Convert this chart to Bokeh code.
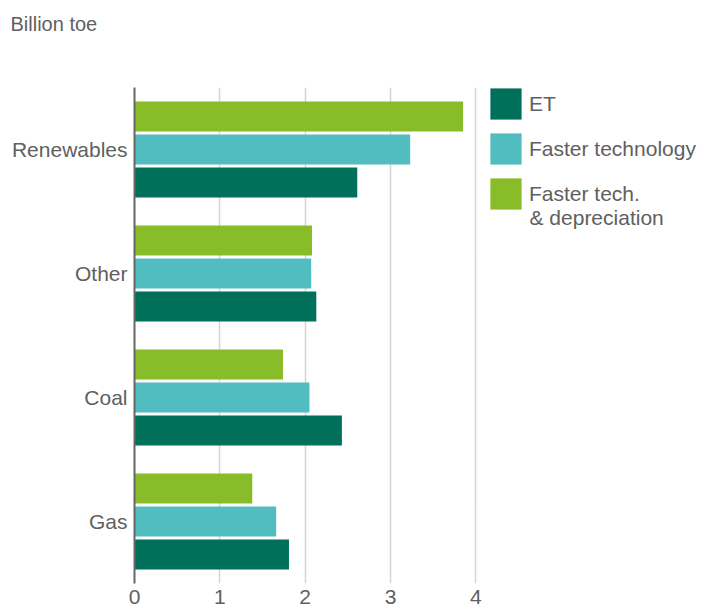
from bokeh.plotting import figure
from bokeh.models import (Range1d, FactorRange, FixedTicker, Legend, LegendItem, Label,
                          ColumnDataSource, Title)
from bokeh.transform import dodge
from bokeh.embed import file_html
from bokeh.resources import INLINE

# ---- data ----
categories = ["Renewables", "Other", "Coal", "Gas"]
series_names = ["ET", "Faster technology", "Faster tech."]
series_name_cont = "& depreciation"
et = [2.61, 2.13, 2.43, 1.81]
faster_tech = [3.23, 2.07, 2.05, 1.66]
faster_dep = [3.85, 2.08, 1.74, 1.38]
x_ticks = [0, 1, 2, 3, 4]
unit_label = "Billion toe"

colors = ["#00705a", "#52bdbf", "#88bc28"]
FONT = "Liberation Sans"
TXT = "#606060"

src = ColumnDataSource(dict(cat=categories, et=et, ft=faster_tech, fd=faster_dep))

PX_PER_UNIT = 85.35
GROUP_PX = 124.0
W, H = 703, 613
LEFT, RIGHT, TOP, BOTTOM = 134, 0, 87, 30
frame_w = W - LEFT - RIGHT

p = figure(width=W, height=H,
           x_range=Range1d(0, frame_w / PX_PER_UNIT),
           y_range=FactorRange(factors=list(reversed(categories))),
           output_backend="svg", toolbar_location=None,
           min_border_left=LEFT, min_border_right=RIGHT,
           min_border_top=TOP, min_border_bottom=BOTTOM)
p.outline_line_color = None
p.background_fill_color = "white"
p.title_location = None

# spacer (closest to the frame) then the unit label at the top
spacer = Title(text=" ", text_font_size="1px", standoff=48)
p.add_layout(spacer, "above")
unit_title = Title(text=unit_label, align="left", offset=10 - LEFT, standoff=0,
                   vertical_align="top", text_font=FONT, text_font_size="20px",
                   text_font_style="normal", text_color=TXT)
p.add_layout(unit_title, "above")

bar_h = 0.242
off = 0.266
r_et = p.hbar(y=dodge("cat", -off, range=p.y_range), left=0, right="et", height=bar_h,
              source=src, fill_color=colors[0], line_color=None)
r_ft = p.hbar(y=dodge("cat", 0.0, range=p.y_range), left=0, right="ft", height=bar_h,
              source=src, fill_color=colors[1], line_color=None)
r_fd = p.hbar(y=dodge("cat", off, range=p.y_range), left=0, right="fd", height=bar_h,
              source=src, fill_color=colors[2], line_color=None)

# axes
p.yaxis.axis_line_color = "#666666"
p.yaxis.axis_line_width = 2
p.yaxis.major_tick_line_color = None
p.yaxis.minor_tick_line_color = None
p.yaxis.major_tick_out = 0
p.yaxis.major_tick_in = 0
p.yaxis.major_label_text_font = FONT
p.yaxis.major_label_text_font_size = "21px"
p.yaxis.major_label_text_color = TXT
p.yaxis.major_label_standoff = 7

p.xaxis.ticker = FixedTicker(ticks=x_ticks)
p.xaxis.axis_line_color = None
p.xaxis.major_tick_line_color = None
p.xaxis.minor_tick_line_color = None
p.xaxis.major_tick_out = 0
p.xaxis.major_tick_in = 0
p.xaxis.major_label_standoff = 6
p.xaxis.major_label_text_font = FONT
p.xaxis.major_label_text_font_size = "21px"
p.xaxis.major_label_text_color = TXT

p.ygrid.grid_line_color = None
p.xgrid.ticker = FixedTicker(ticks=x_ticks)
p.xgrid.grid_line_color = "#d4d4d4"
p.xgrid.grid_line_width = 1.5

# legend: bokeh insets area glyphs by 10% on each side
G = 39
legend = Legend(items=[LegendItem(label=series_names[0], renderers=[r_et]),
                       LegendItem(label=series_names[1], renderers=[r_ft]),
                       LegendItem(label=series_names[2], renderers=[r_fd])],
                location=(352, 370), orientation="vertical",
                glyph_width=G, glyph_height=G, spacing=45 - G, padding=0, margin=0,
                label_standoff=4, label_text_font=FONT, label_text_font_size="21px",
                label_text_color=TXT, border_line_color=None, background_fill_alpha=0)
p.add_layout(legend)

# second line of the third legend entry
cont = Label(x=395 / PX_PER_UNIT, y=(583 - 216.5) / GROUP_PX, text=series_name_cont,
             text_font=FONT, text_font_size="21px", text_color=TXT,
             text_baseline="middle", text_align="left")
p.add_layout(cont)

open("out.html", "w").write(file_html(p, INLINE))
